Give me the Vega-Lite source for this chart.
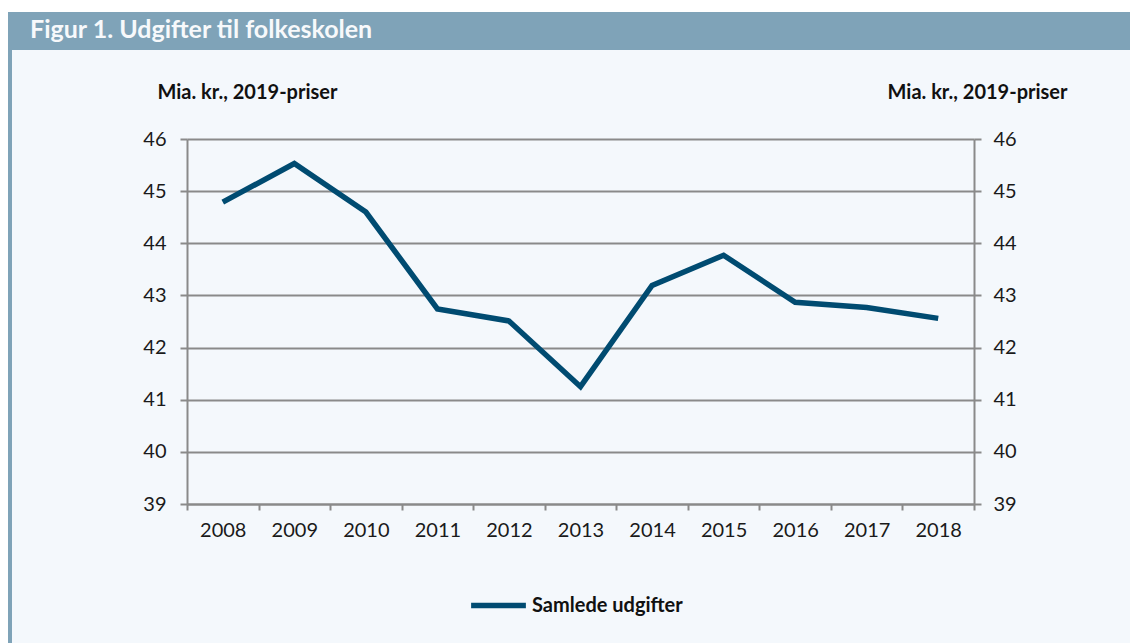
{
  "$schema": "https://vega.github.io/schema/vega-lite/v6.json",
  "background": "#f4f8fc",
  "padding": 0,
  "autosize": {"type": "pad"},
  "config": {
    "view": {"stroke": null},
    "font": "Lato"
  },
  "datasets": {
    "blank": [{"k": 1}],
    "spend": [
      {"year": "2008", "value": 44.79, "series": "Samlede udgifter"},
      {"year": "2009", "value": 45.53, "series": "Samlede udgifter"},
      {"year": "2010", "value": 44.60, "series": "Samlede udgifter"},
      {"year": "2011", "value": 42.74, "series": "Samlede udgifter"},
      {"year": "2012", "value": 42.51, "series": "Samlede udgifter"},
      {"year": "2013", "value": 41.25, "series": "Samlede udgifter"},
      {"year": "2014", "value": 43.19, "series": "Samlede udgifter"},
      {"year": "2015", "value": 43.77, "series": "Samlede udgifter"},
      {"year": "2016", "value": 42.87, "series": "Samlede udgifter"},
      {"year": "2017", "value": 42.77, "series": "Samlede udgifter"},
      {"year": "2018", "value": 42.56, "series": "Samlede udgifter"}
    ]
  },
  "columns": 5,
  "bounds": "flush",
  "align": "each",
  "spacing": 0,
  "concat": [
    {"width": 8, "height": 12, "data": {"name": "blank"}, "mark": {"type": "point", "opacity": 0}, "view": {"fill": "#ffffff"}},
    {"width": 4, "height": 12, "data": {"name": "blank"}, "mark": {"type": "point", "opacity": 0}, "view": {"fill": "#ffffff"}},
    {"width": 175, "height": 12, "data": {"name": "blank"}, "mark": {"type": "point", "opacity": 0}, "view": {"fill": "#ffffff"}},
    {"width": 787, "height": 12, "data": {"name": "blank"}, "mark": {"type": "point", "opacity": 0}, "view": {"fill": "#ffffff"}},
    {"width": 156, "height": 12, "data": {"name": "blank"}, "mark": {"type": "point", "opacity": 0}, "view": {"fill": "#ffffff"}},

    {"width": 8, "height": 38, "data": {"name": "blank"}, "mark": {"type": "point", "opacity": 0}, "view": {"fill": "#ffffff"}},
    {"width": 4, "height": 38, "data": {"name": "blank"}, "mark": {"type": "point", "opacity": 0}, "view": {"fill": "#7fa3b8"}},
    {"width": 175, "height": 38, "data": {"name": "blank"}, "mark": {"type": "point", "opacity": 0}, "view": {"fill": "#7fa3b8"}},
    {"width": 787, "height": 38, "data": {"name": "blank"}, "mark": {"type": "point", "opacity": 0}, "view": {"fill": "#7fa3b8"}},
    {"width": 156, "height": 38, "data": {"name": "blank"}, "mark": {"type": "point", "opacity": 0}, "view": {"fill": "#7fa3b8"}},

    {"width": 8, "height": 89, "data": {"name": "blank"}, "mark": {"type": "point", "opacity": 0}, "view": {"fill": "#ffffff"}},
    {
      "width": 4, "height": 89, "data": {"name": "blank"}, "mark": {"type": "point", "opacity": 0}, "view": {"fill": "#7fa3b8"},
      "title": {
        "text": "Figur 1. Udgifter til folkeskolen",
        "anchor": "start",
        "frame": "group",
        "orient": "top",
        "offset": 6,
        "dx": 22,
        "dy": 19,
        "baseline": "alphabetic",
        "font": "Lato",
        "fontSize": 25,
        "fontWeight": "bold",
        "color": "#f7f9fb"
      }
    },
    {"width": 175, "height": 89, "data": {"name": "blank"}, "mark": {"type": "point", "opacity": 0}},
    {"width": 787, "height": 89, "data": {"name": "blank"}, "mark": {"type": "point", "opacity": 0}},
    {"width": 156, "height": 89, "data": {"name": "blank"}, "mark": {"type": "point", "opacity": 0}},

    {"width": 8, "height": 365, "data": {"name": "blank"}, "mark": {"type": "point", "opacity": 0}, "view": {"fill": "#ffffff"}},
    {"width": 4, "height": 365, "data": {"name": "blank"}, "mark": {"type": "point", "opacity": 0}, "view": {"fill": "#7fa3b8"}},
    {"width": 175, "height": 365, "data": {"name": "blank"}, "mark": {"type": "point", "opacity": 0}},
    {
      "width": 787, "height": 365,
      "data": {"name": "spend"},
      "layer": [
        {
          "mark": {"type": "line", "strokeWidth": 5.5, "strokeJoin": "miter", "strokeCap": "butt"},
          "encoding": {
            "x": {
              "field": "year", "type": "ordinal",
              "scale": {"type": "band", "paddingInner": 0, "paddingOuter": 0},
              "axis": {
                "title": null,
                "labelAngle": 0,
                "tickBand": "extent",
                "domainColor": "#8a8a8a", "domainWidth": 2,
                "tickColor": "#8a8a8a", "tickWidth": 2, "tickSize": 6,
                "labelFont": "Lato", "labelFontSize": 20, "labelColor": "#1a1a1a",
                "labelPadding": 10
              }
            },
            "y": {
              "field": "value", "type": "quantitative",
              "scale": {"domain": [39, 46], "nice": false, "zero": false},
              "axis": {
                "orient": "left",
                "values": [39, 40, 41, 42, 43, 44, 45, 46],
                "grid": true, "gridColor": "#8a8a8a", "gridWidth": 2,
                "domainColor": "#8a8a8a", "domainWidth": 2,
                "tickColor": "#8a8a8a", "tickWidth": 2, "tickSize": 7,
                "labelFont": "Lato", "labelFontSize": 20, "labelColor": "#1a1a1a",
                "labelPadding": 14,
                "title": "Mia. kr., 2019-priser",
                "titleAngle": 0,
                "titleAlign": "left",
                "titleBaseline": "alphabetic",
                "titleX": -30,
                "titleY": -41,
                "titleFont": "Lato", "titleFontSize": 20, "titleFontWeight": "bold", "titleColor": "#111111"
              }
            },
            "color": {
              "field": "series", "type": "nominal",
              "scale": {"range": ["#004b71"]},
              "legend": {
                "orient": "none",
                "legendX": 468,
                "legendY": 575,
                "direction": "horizontal",
                "title": null,
                "padding": 0,
                "symbolType": "stroke",
                "symbolSize": 3000,
                "symbolStrokeWidth": 5.5,
                "symbolOffset": 0,
                "labelOffset": 3,
                "labelFont": "Lato", "labelFontSize": 20, "labelFontWeight": "bold", "labelColor": "#111111"
              }
            }
          }
        },
        {
          "mark": {"type": "line", "opacity": 0},
          "encoding": {
            "x": {"field": "year", "type": "ordinal"},
            "y": {
              "field": "value", "type": "quantitative",
              "axis": {
                "orient": "right",
                "values": [39, 40, 41, 42, 43, 44, 45, 46],
                "grid": false,
                "domainColor": "#8a8a8a", "domainWidth": 2,
                "tickColor": "#8a8a8a", "tickWidth": 2, "tickSize": 7,
                "labelFont": "Lato", "labelFontSize": 20, "labelColor": "#1a1a1a",
                "labelPadding": 12,
                "title": "Mia. kr., 2019-priser",
                "titleAngle": 0,
                "titleAlign": "right",
                "titleBaseline": "alphabetic",
                "titleX": 93,
                "titleY": -41,
                "titleFont": "Lato", "titleFontSize": 20, "titleFontWeight": "bold", "titleColor": "#111111"
              }
            }
          }
        }
      ],
      "resolve": {"axis": {"y": "independent"}}
    },
    {"width": 156, "height": 365, "data": {"name": "blank"}, "mark": {"type": "point", "opacity": 0}},

    {"width": 8, "height": 139, "data": {"name": "blank"}, "mark": {"type": "point", "opacity": 0}, "view": {"fill": "#ffffff"}},
    {"width": 4, "height": 139, "data": {"name": "blank"}, "mark": {"type": "point", "opacity": 0}, "view": {"fill": "#7fa3b8"}},
    {"width": 175, "height": 139, "data": {"name": "blank"}, "mark": {"type": "point", "opacity": 0}},
    {"width": 787, "height": 139, "data": {"name": "blank"}, "mark": {"type": "point", "opacity": 0}},
    {"width": 156, "height": 139, "data": {"name": "blank"}, "mark": {"type": "point", "opacity": 0}}
  ]
}
